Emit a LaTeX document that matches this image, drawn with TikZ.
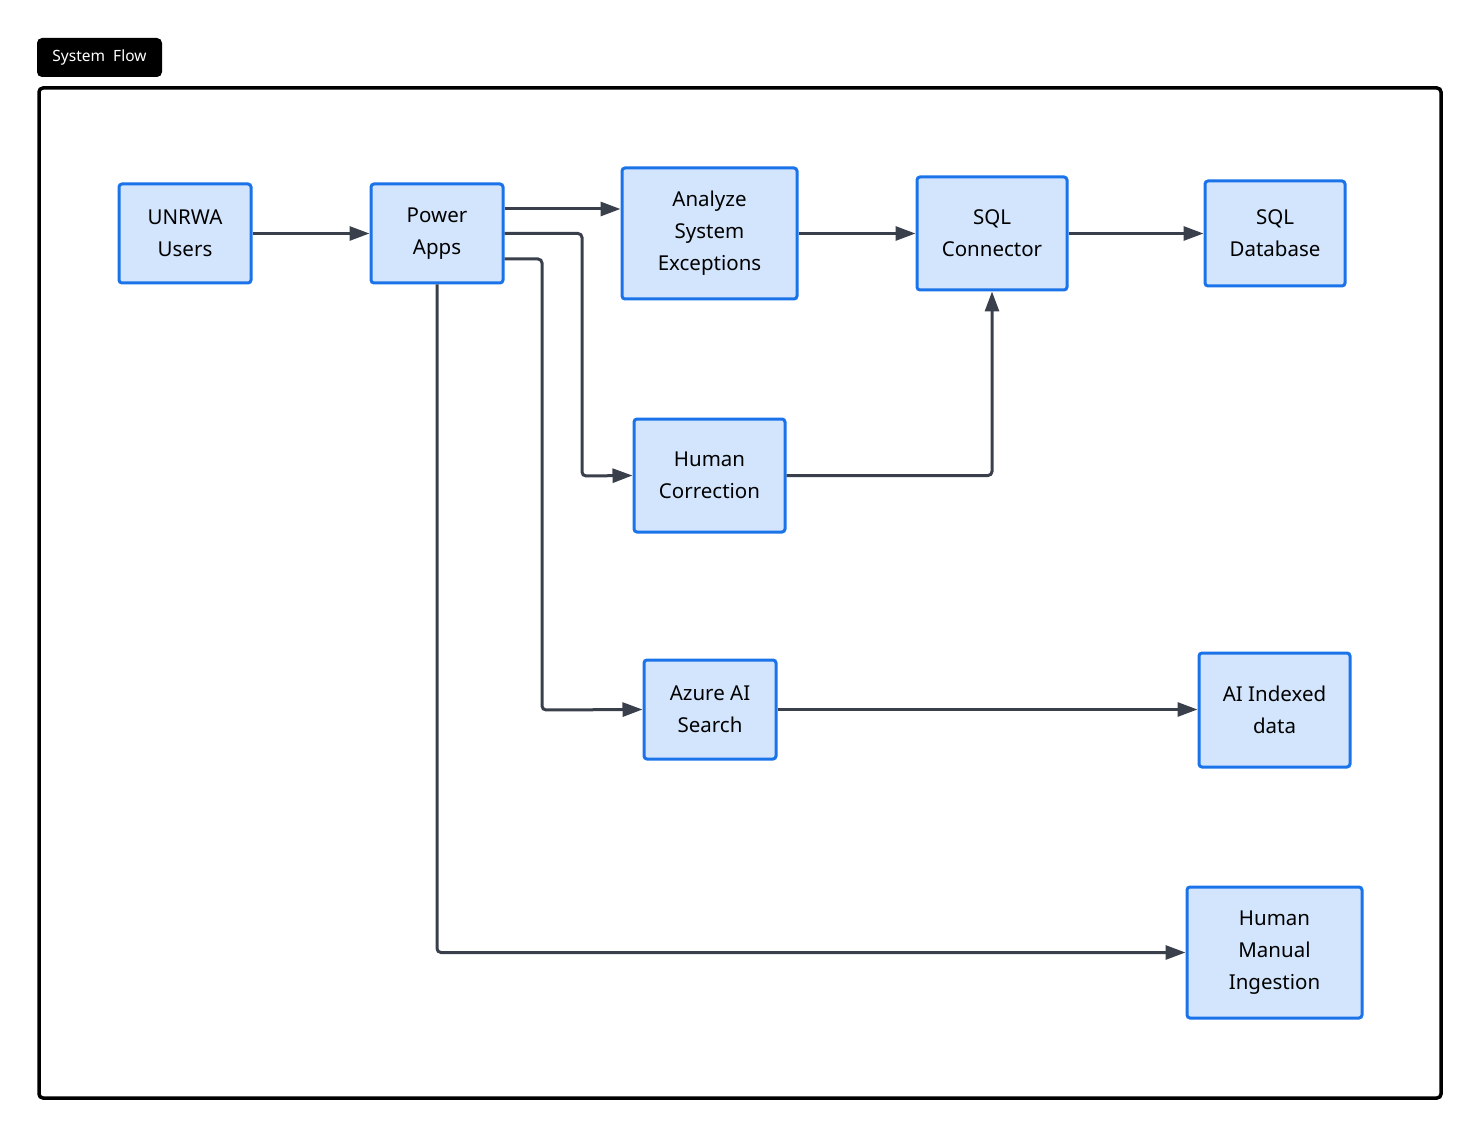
\documentclass[tikz,border=0pt]{standalone}
\usepackage{fontspec}
\setmainfont{Noto Sans}
\usetikzlibrary{arrows.meta}
\definecolor{boxfill}{HTML}{D2E5FD}
\definecolor{boxline}{HTML}{1A73E8}
\definecolor{edge}{HTML}{3A404B}
\begin{document}
\begin{tikzpicture}[x=1pt,y=-1pt,
  box/.style={draw=boxline,fill=boxfill,line width=3pt,rounded corners=3pt,align=center,font=\fontsize{20.5}{32}\selectfont,inner sep=0pt},
  conn/.style={draw=edge,line width=3pt,rounded corners=4pt,-{Triangle[length=20pt,width=14pt]}}]
\useasboundingbox (0,0) rectangle (1483,1139);
\draw[line width=3.5pt,rounded corners=4pt] (39,88) rectangle (1441,1098);
\node[fill=black,rounded corners=5pt,minimum width=125pt,minimum height=39pt,inner sep=0pt,text=white,font=\fontsize{15.5}{18}\selectfont] (title) at (99.5,57.5) {System\ \ Flow};
\node[box,minimum width=132pt,minimum height=99pt] (users) at (185,233.5) {UNRWA\\Users};
\node[box,minimum width=132pt,minimum height=99pt] (power) at (437,233.5) {Power\\Apps};
\node[box,minimum width=175pt,minimum height=131pt] (analyze) at (709.5,233.5) {Analyze\\System\\Exceptions};
\node[box,minimum width=150pt,minimum height=113pt] (conn) at (992,233.5) {SQL\\Connector};
\node[box,minimum width=140pt,minimum height=105pt] (db) at (1275,233.5) {SQL\\Database};
\node[box,minimum width=151pt,minimum height=113pt] (hc) at (709.5,475.5) {Human\\Correction};
\node[box,minimum width=132pt,minimum height=99pt] (azure) at (710,709.5) {Azure AI\\Search};
\node[box,minimum width=151pt,minimum height=114pt] (idx) at (1274.5,710) {AI Indexed\\data};
\node[box,minimum width=175pt,minimum height=131pt] (hm) at (1274.5,952.5) {Human\\Manual\\Ingestion};
\draw[conn] (users.east) -- (power.west);
\draw[conn] (power.east |- 0,209) -- (analyze.west |- 0,209);
\draw[conn] (power.east) -- (582,233.5) -- (582,476) -- (hc.west);
\draw[conn] (power.east |- 0,259) -- (542,259) -- (542,710) -- (azure.west);
\draw[conn] (power.south) -- (437,952.5) -- (hm.west);
\draw[conn] (analyze.east) -- (conn.west);
\draw[conn] (conn.east) -- (db.west);
\draw[conn] (hc.east) -- (992,475.5) -- (conn.south);
\draw[conn] (azure.east) -- (idx.west |- azure.east);
\end{tikzpicture}
\end{document}
